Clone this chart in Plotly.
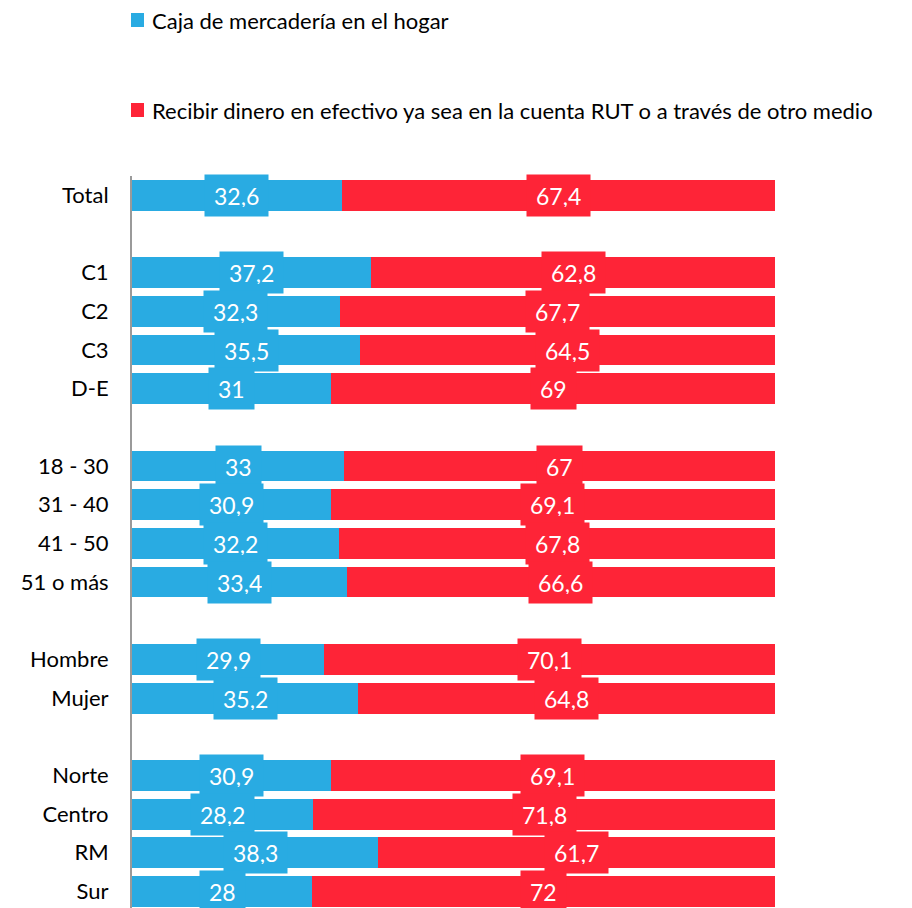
import plotly.graph_objects as go

groups = [
    ["Total"],
    ["C1", "C2", "C3", "D-E"],
    ["18 - 30", "31 - 40", "41 - 50", "51 o más"],
    ["Hombre", "Mujer"],
    ["Norte", "Centro", "RM", "Sur"],
]
caja = [32.6, 37.2, 32.3, 35.5, 31, 33, 30.9, 32.2, 33.4, 29.9, 35.2, 30.9, 28.2, 38.3, 28]
dinero = [67.4, 62.8, 67.7, 64.5, 69, 67, 69.1, 67.8, 66.6, 70.1, 64.8, 69.1, 71.8, 61.7, 72]

names = ["Caja de mercadería en el hogar",
         "Recibir dinero en efectivo ya sea en la cuenta RUT o a través de otro medio"]
colors = ["#29ABE2", "#FE2437"]
FONT = "Lato"

W, H = 912, 908
ML, MR, MT, MB = 124, 145, 168, 8
PW, PH = W - ML - MR, H - MT - MB

# row positions, leaving an empty row between groups
labels, rows = [], []
r = 0
for g in groups:
    for lab in g:
        labels.append(lab)
        rows.append(r)
        r += 1
    r += 1


def fmt(v):
    return f"{v:g}".replace(".", ",")


def px_x(p):
    return (p - ML) / PW


def px_y(p):
    return 1 + (MT - p) / PH


fig = go.Figure()
series = [caja, dinero]
for vals, name, col in zip(series, names, colors):
    fig.add_trace(go.Bar(
        y=rows, x=vals, name=name, orientation="h",
        marker=dict(color=col, line=dict(width=0)),
        width=0.8, showlegend=False,
    ))

# value labels with coloured boxes, centred in each segment
for j, y in enumerate(rows):
    base = 0
    for vals, col in zip(series, colors):
        v = vals[j]
        fig.add_annotation(
            x=base + v / 2, y=y, text=fmt(v), showarrow=False,
            font=dict(family=FONT, size=23, color="white"),
            bgcolor=col, borderpad=9, height=23,
        )
        base += v

# legend drawn by hand (stacked entries high above the plot)
for k, (name, col) in enumerate(zip(names, colors)):
    yc = 12 + k * 90
    fig.add_shape(type="rect", xref="paper", yref="paper",
                  x0=px_x(123), x1=px_x(136), y0=px_y(yc - 7), y1=px_y(yc + 7),
                  fillcolor=col, line=dict(width=0))
    fig.add_annotation(x=px_x(142), y=px_y(yc), xref="paper", yref="paper",
                       text=name, showarrow=False, xanchor="left", yanchor="middle",
                       font=dict(family=FONT, size=22, color="black"))

fig.update_layout(
    barmode="stack",
    width=W, height=H,
    margin=dict(l=ML, r=MR, t=MT, b=MB),
    plot_bgcolor="white", paper_bgcolor="white",
    font=dict(family=FONT, size=22, color="black"),
    showlegend=False,
)
fig.update_xaxes(range=[0, 100], visible=False)
fig.update_yaxes(
    range=[18.43, -0.5], tickvals=rows, ticktext=labels,
    showgrid=False, zeroline=False, ticks="", ticklabelstandoff=17,
    showline=True, linecolor="#9a9a9a", linewidth=2,
)

fig.write_html("out.html")
